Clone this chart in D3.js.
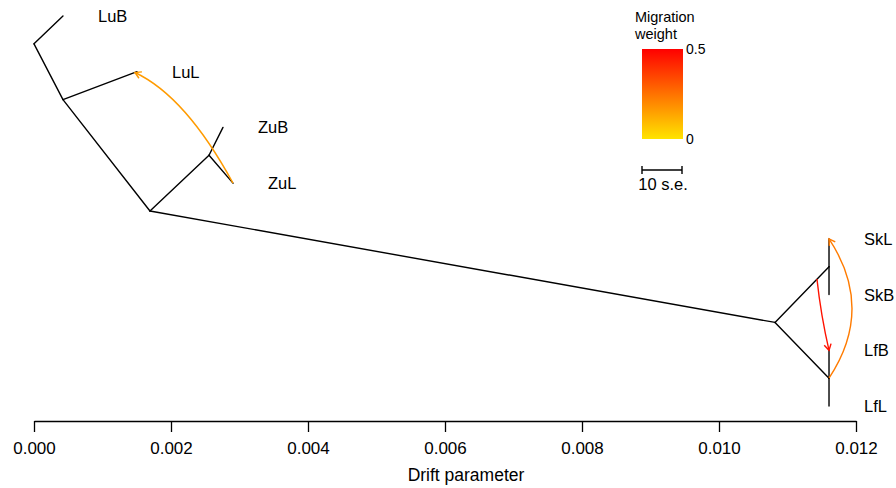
<!DOCTYPE html>
<html>
<head>
<meta charset="utf-8">
<script src="https://cdn.jsdelivr.net/npm/d3@7"></script>
<style>
  body { margin: 0; background: #fff; }
  svg { font-family: "Liberation Sans", Arial, Helvetica, sans-serif; }
</style>
</head>
<body>
<svg id="chart"></svg>
<script>
// tree nodes (tips + internal)
const nodeNames   = ["root", "LuB", "n1", "LuL", "n2", "n3", "ZuB", "ZuL", "n4", "n5", "SkL", "SkB", "n6", "LfB", "LfL"];
const nodeParents = [null, "root", "root", "n1", "n1", "n2", "n3", "n3", "n2", "n4", "n5", "n5", "n4", "n6", "n6"];
const nodeDrift   = [0, 0.000423, 0.000423, 0.001504, 0.001693, 0.002555, 0.002759, 0.002905,
                     0.010818, 0.011606, 0.011606, 0.011606, 0.011606, 0.011606, 0.011606];
const nodeRow     = [0.5, 0, 1.5, 1, 3.5, 2.5, 2, 3, 5.5, 4.5, 4, 5, 6.5, 6, 7];
const tipNames    = ["LuB", "LuL", "ZuB", "ZuL", "SkL", "SkB", "LfB", "LfL"];

// migration edges
const migFromDrift = [0.002905, 0.011430, 0.011606];
const migFromRow   = [3.0, 4.72, 6.5];
const migToDrift   = [0.001474, 0.011606, 0.011606];
const migToRow     = [1.014, 6.0, 4.0];
const migWeight    = [0.16, 0.46, 0.23];

const xTicks = [0, 0.002, 0.004, 0.006, 0.008, 0.010, 0.012];
const se10 = 0.000584;   // 10 standard errors in drift units

const svgWidth = 896, svgHeight = 488;

const chart = d3.select("#chart")
    .attr("width", svgWidth)
    .attr("height", svgHeight);

const xScale = d3.scaleLinear().domain([0, 0.012]).range([34, 856]);
const yScale = d3.scaleLinear().domain([0, 7]).range([16, 406]);
const weightColor = d3.scaleLinear().domain([0, 0.5]).range(["#ffe400", "#ff0000"]);

// tree branches
const byName = {};
nodeNames.forEach(function(n, i) { byName[n] = i; });

const branches = nodeNames.map(function(n, i) { return i; })
    .filter(function(i) { return nodeParents[i] !== null; });

chart.append("g").selectAll("line")
    .data(branches)
    .enter()
    .append("line")
    .attr("x1", function(i) { return xScale(nodeDrift[byName[nodeParents[i]]]); })
    .attr("y1", function(i) { return yScale(nodeRow[byName[nodeParents[i]]]); })
    .attr("x2", function(i) { return xScale(nodeDrift[i]); })
    .attr("y2", function(i) { return yScale(nodeRow[i]); })
    .attr("stroke", "#000")
    .attr("stroke-width", 1.4)
    .attr("stroke-linecap", "round");

// tip labels
chart.append("g").selectAll("text")
    .data(tipNames)
    .enter()
    .append("text")
    .attr("x", function(d) { return xScale(nodeDrift[byName[d]]) + 35; })
    .attr("y", function(d) { return yScale(nodeRow[byName[d]]); })
    .attr("dy", "0.36em")
    .style("font-size", "16.5px")
    .text(function(d) { return d; });

// migration arrows (quadratic curves, bulge)
const migShape = [[0.65, 0.15], [0.5, 0.03], [0.5, 0.33]];  // [position of bend, bend / chord]

const migG = chart.append("g");
migWeight.forEach(function(w, i) {
    const x0 = xScale(migFromDrift[i]), y0 = yScale(migFromRow[i]);
    const x2 = xScale(migToDrift[i]), y2 = yScale(migToRow[i]);
    const dx = x2 - x0, dy = y2 - y0, len = Math.sqrt(dx * dx + dy * dy);
    const s = migShape[i][0], k = migShape[i][1];
    const cx = x0 + s * dx + (-dy / len) * k * len;
    const cy = y0 + s * dy + (dx / len) * k * len;
    const col = weightColor(w);

    migG.append("path")
        .attr("d", "M" + x0 + "," + y0 + "Q" + cx + "," + cy + " " + x2 + "," + y2)
        .attr("fill", "none")
        .attr("stroke", col)
        .attr("stroke-width", 1.4);

    // open arrow head along the end tangent
    const ang = Math.atan2(y2 - cy, x2 - cx);
    const hl = 7, ha = Math.PI / 6;
    const p1 = [x2 - hl * Math.cos(ang - ha), y2 - hl * Math.sin(ang - ha)];
    const p2 = [x2 - hl * Math.cos(ang + ha), y2 - hl * Math.sin(ang + ha)];
    migG.append("path")
        .attr("d", "M" + p1 + "L" + x2 + "," + y2 + "L" + p2)
        .attr("fill", "none")
        .attr("stroke", col)
        .attr("stroke-width", 1.4);
});

// x axis
const xAxis = d3.axisBottom(xScale)
    .tickValues(xTicks)
    .tickFormat(d3.format(".3f"))
    .tickSize(11)
    .tickSizeOuter(0)
    .tickPadding(10);

const axisG = chart.append("g")
    .attr("transform", "translate(0,421)")
    .call(xAxis);
axisG.select(".domain").attr("stroke", "#000").attr("stroke-width", 1.3);
axisG.selectAll(".tick line").attr("stroke", "#000").attr("stroke-width", 1.3);
axisG.selectAll(".tick text")
    .attr("fill", "#000")
    .style("font-size", "17px")
    .style("font-family", "'Liberation Sans', Arial, sans-serif");

chart.append("text")
    .attr("x", 466)
    .attr("y", 481)
    .style("text-anchor", "middle")
    .style("font-size", "17.5px")
    .text("Drift parameter");

// legend: migration weight gradient
const defs = chart.append("defs");
const grad = defs.append("linearGradient")
    .attr("id", "wgrad")
    .attr("x1", 0).attr("y1", 1).attr("x2", 0).attr("y2", 0);
grad.selectAll("stop")
    .data([0, 0.125, 0.25, 0.375, 0.5])
    .enter()
    .append("stop")
    .attr("offset", function(d) { return d / 0.5; })
    .attr("stop-color", function(d) { return weightColor(d); });

const legTop = 49, legBottom = 139, legX = 642, legW = 41;
const legScale = d3.scaleLinear().domain([0, 0.5]).range([legBottom, legTop]);

chart.append("rect")
    .attr("x", legX).attr("y", legTop)
    .attr("width", legW).attr("height", legBottom - legTop)
    .attr("fill", "url(#wgrad)");

chart.append("g").selectAll("text")
    .data([0, 0.5])
    .enter()
    .append("text")
    .attr("x", legX + legW + 3)
    .attr("y", function(d) { return legScale(d); })
    .attr("dy", "0.36em")
    .style("font-size", "14px")
    .text(function(d) { return d3.format("")(d); });

chart.append("text")
    .attr("x", 635).attr("y", 22)
    .style("font-size", "14.5px")
    .text("Migration");
chart.append("text")
    .attr("x", 635).attr("y", 39)
    .style("font-size", "14.5px")
    .text("weight");

// scale bar: 10 s.e.
const barW = xScale(se10) - xScale(0);
const bar = chart.append("g").attr("transform", "translate(642,170)");
bar.append("line").attr("x1", 0).attr("x2", barW).attr("y1", 0).attr("y2", 0)
    .attr("stroke", "#000").attr("stroke-width", 1.4);
bar.selectAll(".cap")
    .data([0, barW])
    .enter()
    .append("line")
    .attr("class", "cap")
    .attr("x1", function(d) { return d; }).attr("x2", function(d) { return d; })
    .attr("y1", -4).attr("y2", 4)
    .attr("stroke", "#000").attr("stroke-width", 1.4);
bar.append("text")
    .attr("x", barW / 2 + 1).attr("y", 20)
    .style("text-anchor", "middle")
    .style("font-size", "16.5px")
    .text("10 s.e.");
</script>
</body>
</html>
